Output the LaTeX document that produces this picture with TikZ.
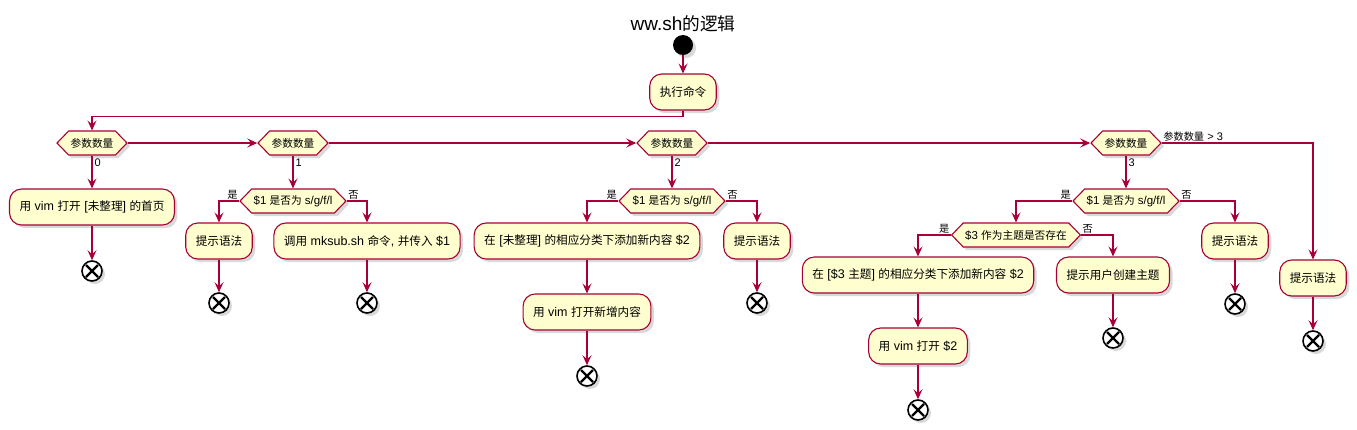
\documentclass[tikz,border=0pt]{standalone}
\usepackage{fontspec}
\setmainfont{Liberation Sans}
\newfontfamily\cjk{Noto Sans CJK SC}[Scale=0.93]
\usetikzlibrary{shapes.symbols, arrows.meta, shadows}

% switch to the CJK font for ideographs, back to Latin otherwise
\XeTeXinterchartokenstate=1
\newXeTeXintercharclass\zhclass
\count255="4E00
\loop
  \XeTeXcharclass\count255=\zhclass
  \advance\count255 by 1
\ifnum\count255<"A000 \repeat
\XeTeXinterchartoks 0 \zhclass = {\cjk}
\XeTeXinterchartoks 4095 \zhclass = {\cjk}
\XeTeXinterchartoks \zhclass 0 = {\rmfamily}
\XeTeXinterchartoks \zhclass 4095 = {\rmfamily}
\XeTeXinterchartoks 4095 0 = {\rmfamily}

\definecolor{umlred}{HTML}{A80036}
\definecolor{umlfill}{HTML}{FEFECE}

\begin{document}
\begin{tikzpicture}[x=1pt, y=-1pt, node distance=40pt]
    \tikzstyle{shade} = [drop shadow={shadow xshift=3pt, shadow yshift=-3pt, opacity=0.3}]
    \tikzstyle{box} = [rectangle, rounded corners=12pt, minimum height=36pt, inner xsep=10pt, draw=umlred, line width=1.1pt, fill=umlfill, shade, font=\fontsize{12.5}{14}\selectfont]
    \tikzstyle{cond} = [signal, signal to=west and east, signal pointer angle=92, minimum height=24pt, inner xsep=2pt, inner ysep=0pt, draw=umlred, line width=1.1pt, fill=umlfill, shade, font=\fontsize{11.5}{13}\selectfont]
    \tikzstyle{startnode} = [circle, fill=black, minimum size=20pt, inner sep=0pt, shade]
    \tikzstyle{endnode} = [circle, draw=black, line width=1.6pt, fill=white, minimum size=20pt, inner sep=0pt, shade,
        path picture={\draw [line width=2.4pt, shift={(path picture bounding box.center)}] (-6pt,-6pt) -- (6pt,6pt) (-6pt,6pt) -- (6pt,-6pt);}]
    \tikzstyle{flow} = [draw=umlred, line width=1.1pt, -{Stealth[length=10pt, width=9pt, inset=4pt]}]
    \tikzstyle{lbl} = [inner sep=1pt, font=\fontsize{11}{13}\selectfont]
    \tikzstyle{heading} = [font=\fontsize{19}{21}\selectfont]

    \useasboundingbox (0,0) rectangle (1357,429);

    % Start
    \node [startnode] at (683,45) (start) {};
    \node [heading, above of=start, node distance=21pt] (head) {ww.sh的逻辑};
    \node [box, below of=start, node distance=47pt] (exec) {执行命令};

    % Argument count switch
    \node [cond] at (92,143) (q0) {参数数量};
    \node [cond, right of=q0, node distance=201pt] (q1) {参数数量};
    \node [cond, right of=q1, node distance=379pt] (q2) {参数数量};
    \node [cond, right of=q2, node distance=454pt] (q3) {参数数量};

    % Case 0
    \node [box, below of=q0, node distance=64pt] (open0) {用 vim 打开 [未整理] 的首页};
    \node [endnode, below of=open0, node distance=64pt] (end0) {};

    % Case 1
    \node [cond, below of=q1, node distance=58pt] (q1a) {\$1 是否为 s/g/f/l};
    \node [box, below of=q1a, xshift=-74pt] (hint1) {提示语法};
    \node [endnode, below of=hint1, node distance=62pt] (end1) {};
    \node [box, below of=q1a, xshift=74pt] (mksub) {调用 mksub.sh 命令, 并传入 \$1};
    \node [endnode, below of=mksub, node distance=62pt] (end1b) {};

    % Case 2
    \node [cond, below of=q2, node distance=58pt] (q2a) {\$1 是否为 s/g/f/l};
    \node [box, below of=q2a, xshift=-85pt] (add2) {在 [未整理] 的相应分类下添加新内容 \$2};
    \node [box, below of=add2, node distance=71pt] (open2) {用 vim 打开新增内容};
    \node [endnode, below of=open2, node distance=64pt] (end2) {};
    \node [box, below of=q2a, xshift=85pt] (hint2) {提示语法};
    \node [endnode, below of=hint2, node distance=62pt] (end2b) {};

    % Case 3
    \node [cond, below of=q3, node distance=58pt] (q3a) {\$1 是否为 s/g/f/l};
    \node [cond, below of=q3a, node distance=34pt, xshift=-110pt] (q3b) {\$3 作为主题是否存在};
    \node [box, below of=q3b, xshift=-98pt] (add3) {在 [\$3 主题] 的相应分类下添加新内容 \$2};
    \node [box, below of=add3, node distance=71pt] (open3) {用 vim 打开 \$2};
    \node [endnode, below of=open3, node distance=64pt] (end3) {};
    \node [box, below of=q3b, xshift=97pt] (create3) {提示用户创建主题};
    \node [endnode, below of=create3, node distance=63pt] (end3b) {};
    \node [box, below of=q3a, xshift=109pt] (hint3) {提示语法};
    \node [endnode, below of=hint3, node distance=63pt] (end3c) {};

    % More than 3
    \node [box, below of=q3, node distance=135pt, xshift=187pt] (hint4) {提示语法};
    \node [endnode, below of=hint4, node distance=63pt] (end4) {};

    % Connections
    \draw [flow] (start) -- (exec);
    \draw [flow] (exec.south) -- ++(0,6) -| (q0.north);
    \draw [flow] (q0.east) -- (q1.west);
    \draw [flow] (q1.east) -- (q2.west);
    \draw [flow] (q2.east) -- (q3.west);
    \draw [flow] (q3.east) -| (hint4.north) node [lbl, pos=0, anchor=south west] (more) {参数数量 > 3};
    \draw [flow] (hint4) -- (end4);

    \draw [flow] (q0.south) -- (open0) node [lbl, pos=0, anchor=north west, xshift=1pt, yshift=-2pt] (c0) {0};
    \draw [flow] (open0) -- (end0);

    \draw [flow] (q1.south) -- (q1a.north) node [lbl, pos=0, anchor=north west, xshift=1pt, yshift=-2pt] (c1) {1};
    \draw [flow] (q1a.west) -| (hint1.north) node [lbl, pos=0, anchor=south east] (yes1) {是};
    \draw [flow] (q1a.east) -| (mksub.north) node [lbl, pos=0, anchor=south west] (no1) {否};
    \draw [flow] (hint1) -- (end1);
    \draw [flow] (mksub) -- (end1b);

    \draw [flow] (q2.south) -- (q2a.north) node [lbl, pos=0, anchor=north west, xshift=1pt, yshift=-2pt] (c2) {2};
    \draw [flow] (q2a.west) -| (add2.north) node [lbl, pos=0, anchor=south east] (yes2) {是};
    \draw [flow] (q2a.east) -| (hint2.north) node [lbl, pos=0, anchor=south west] (no2) {否};
    \draw [flow] (add2) -- (open2);
    \draw [flow] (open2) -- (end2);
    \draw [flow] (hint2) -- (end2b);

    \draw [flow] (q3.south) -- (q3a.north) node [lbl, pos=0, anchor=north west, xshift=1pt, yshift=-2pt] (c3) {3};
    \draw [flow] (q3a.west) -| (q3b.north) node [lbl, pos=0, anchor=south east] (yes3) {是};
    \draw [flow] (q3a.east) -| (hint3.north) node [lbl, pos=0, anchor=south west] (no3) {否};
    \draw [flow] (q3b.west) -| (add3.north) node [lbl, pos=0, anchor=south east] (yes3b) {是};
    \draw [flow] (q3b.east) -| (create3.north) node [lbl, pos=0, anchor=south west] (no3b) {否};
    \draw [flow] (add3) -- (open3);
    \draw [flow] (open3) -- (end3);
    \draw [flow] (create3) -- (end3b);
    \draw [flow] (hint3) -- (end3c);
\end{tikzpicture}
\end{document}
